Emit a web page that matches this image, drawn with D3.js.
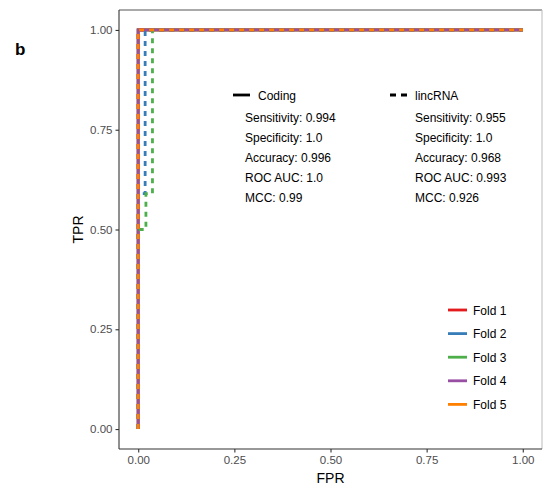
<!DOCTYPE html>
<head>
  <meta charset="utf-8">
  <script type="text/javascript" src="https://d3js.org/d3.v7.min.js"></script>
  <style>
    body { margin: 0; background: #fff; }
    text { font-family: "Liberation Sans", Arial, sans-serif; }
  </style>
</head>
<body>
  <script>

  // fold names and colours (Set1)
  var folds = ["Fold 1", "Fold 2", "Fold 3", "Fold 4", "Fold 5"]
  var foldColors = ["#E41A1C", "#377EB8", "#4DAF4A", "#984EA3", "#FF7F00"]

  // ROC curves, [FPR, TPR]
  var codingCurves = [
    [[0, 0], [0, 1], [1, 1]],
    [[0, 0], [0, 1], [1, 1]],
    [[0, 0], [0, 1], [1, 1]],
    [[0, 0], [0, 1], [1, 1]],
    [[0, 0], [0, 1], [1, 1]]
  ]
  var lincCurves = [
    [[0, 0], [0, 1], [1, 1]],
    [[0, 0], [0, 0.59], [0.018, 0.59], [0.018, 1], [1, 1]],
    [[0, 0], [0, 0.5], [0.02, 0.5], [0.02, 0.59], [0.037, 0.59], [0.037, 1], [1, 1]],
    [[0, 0], [0, 1], [1, 1]],
    [[0, 0], [0, 1], [1, 1]]
  ]

  var statLabels = ["Sensitivity", "Specificity", "Accuracy", "ROC AUC", "MCC"]
  var codingStats = ["0.994", "1.0", "0.996", "1.0", "0.99"]
  var lincStats = ["0.955", "1.0", "0.968", "0.993", "0.926"]

  var xTicks = [0, 0.25, 0.5, 0.75, 1]
  var yTicks = [0, 0.25, 0.5, 0.75, 1]

  var margin = {top : 10, right : 1, bottom : 39, left : 119}
  var width = 543 - margin.left - margin.right
  var height = 488 - margin.top - margin.bottom

  var svg = d3.select("body")
              .append("svg")
              .attr("width", 543)
              .attr("height", 488)
  var g = svg.append("g")
             .attr("transform", "translate(" + margin.left + "," + margin.top + ")")

  var x = d3.scaleLinear().domain([-0.05, 1.05]).range([0, width])
  var y = d3.scaleLinear().domain([-0.05, 1.05]).range([height, 0])

  // panel border (top/right lighter)
  g.append("line").attr("x1", 0).attr("x2", width).attr("y1", 0).attr("y2", 0)
   .attr("stroke", "#555").attr("stroke-width", 1)
  g.append("line").attr("x1", width).attr("x2", width).attr("y1", 0).attr("y2", height)
   .attr("stroke", "#bbb").attr("stroke-width", 1)

  var line = d3.line()
               .x(function(d) { return x(d[0]) })
               .y(function(d) { return y(d[1]) })

  // solid coding curves, purple drawn last
  var codingOrder = [0, 1, 2, 4, 3]
  codingOrder.forEach(function(i) {
    g.append("path")
     .datum(codingCurves[i])
     .attr("d", line)
     .attr("fill", "none")
     .attr("stroke", foldColors[i])
     .attr("stroke-width", 2.8)
  })

  lincCurves.forEach(function(c, i) {
    g.append("path")
     .datum(c)
     .attr("d", line)
     .attr("fill", "none")
     .attr("stroke", foldColors[i])
     .attr("stroke-width", 2.8)
     .attr("stroke-dasharray", "5,5")
  })

  // axes
  var xAxis = g.append("g")
               .attr("transform", "translate(0," + height + ")")
               .call(d3.axisBottom(x).tickValues(xTicks).tickFormat(d3.format(".2f")).tickSizeOuter(0).tickSize(3.5).tickPadding(3))
  var yAxis = g.append("g")
               .call(d3.axisLeft(y).tickValues(yTicks).tickFormat(d3.format(".2f")).tickSizeOuter(0).tickSize(3.5).tickPadding(3))

  ;[xAxis, yAxis].forEach(function(a) {
    a.select(".domain").attr("stroke", "#333").attr("stroke-width", 1.1)
    a.selectAll(".tick line").attr("stroke", "#333").attr("stroke-width", 1.1)
    a.selectAll(".tick text")
     .style("fill", "#4D4D4D")
     .style("font-size", "11.5px")
     .style("font-family", "Liberation Sans, Arial, sans-serif")
  })
  // extend bottom/left lines to full panel
  xAxis.select(".domain").attr("d", "M0,0H" + width)
  yAxis.select(".domain").attr("d", "M0,0V" + height)

  svg.append("text")
     .attr("x", margin.left + width / 2)
     .attr("y", 483)
     .attr("text-anchor", "middle")
     .style("font-size", "14px")
     .text("FPR")

  svg.append("text")
     .attr("transform", "translate(83," + (margin.top + height / 2) + ") rotate(-90)")
     .attr("text-anchor", "middle")
     .style("font-size", "14px")
     .text("TPR")

  svg.append("text")
     .attr("x", 15)
     .attr("y", 55)
     .style("font-size", "17px")
     .attr("font-weight", "bold")
     .text("b")

  // linetype legend with stats
  var typeLegend = [
    {name : "Coding", dash : null, lx : 233, tx : 258, sx : 245, stats : codingStats},
    {name : "lincRNA", dash : "6,5", lx : 390, tx : 415, sx : 415, stats : lincStats}
  ]
  typeLegend.forEach(function(t) {
    svg.append("line")
       .attr("x1", t.lx).attr("x2", t.lx + 17)
       .attr("y1", 95).attr("y2", 95)
       .attr("stroke", "#000")
       .attr("stroke-width", 2.8)
       .attr("stroke-dasharray", t.dash)
    svg.append("text")
       .attr("x", t.tx)
       .attr("y", 99.5)
       .style("font-size", "12px")
       .text(t.name)
    svg.selectAll(null)
       .data(t.stats)
       .enter()
       .append("text")
       .attr("x", t.sx)
       .attr("y", function(d, i) { return 121.5 + i * 20 })
       .style("font-size", "12px")
       .text(function(d, i) { return statLabels[i] + ": " + d })
  })

  // fold legend
  var foldLegend = svg.selectAll(".fold")
                      .data(folds)
                      .enter()
                      .append("g")
                      .attr("transform", function(d, i) { return "translate(448," + (310 + i * 23.6) + ")" })
  foldLegend.append("line")
            .attr("x1", 0).attr("x2", 19)
            .attr("stroke", function(d, i) { return foldColors[i] })
            .attr("stroke-width", 2.8)
  foldLegend.append("text")
            .attr("x", 25)
            .attr("y", 4.5)
            .style("font-size", "12px")
            .text(function(d) { return d })

  </script>
</body>
